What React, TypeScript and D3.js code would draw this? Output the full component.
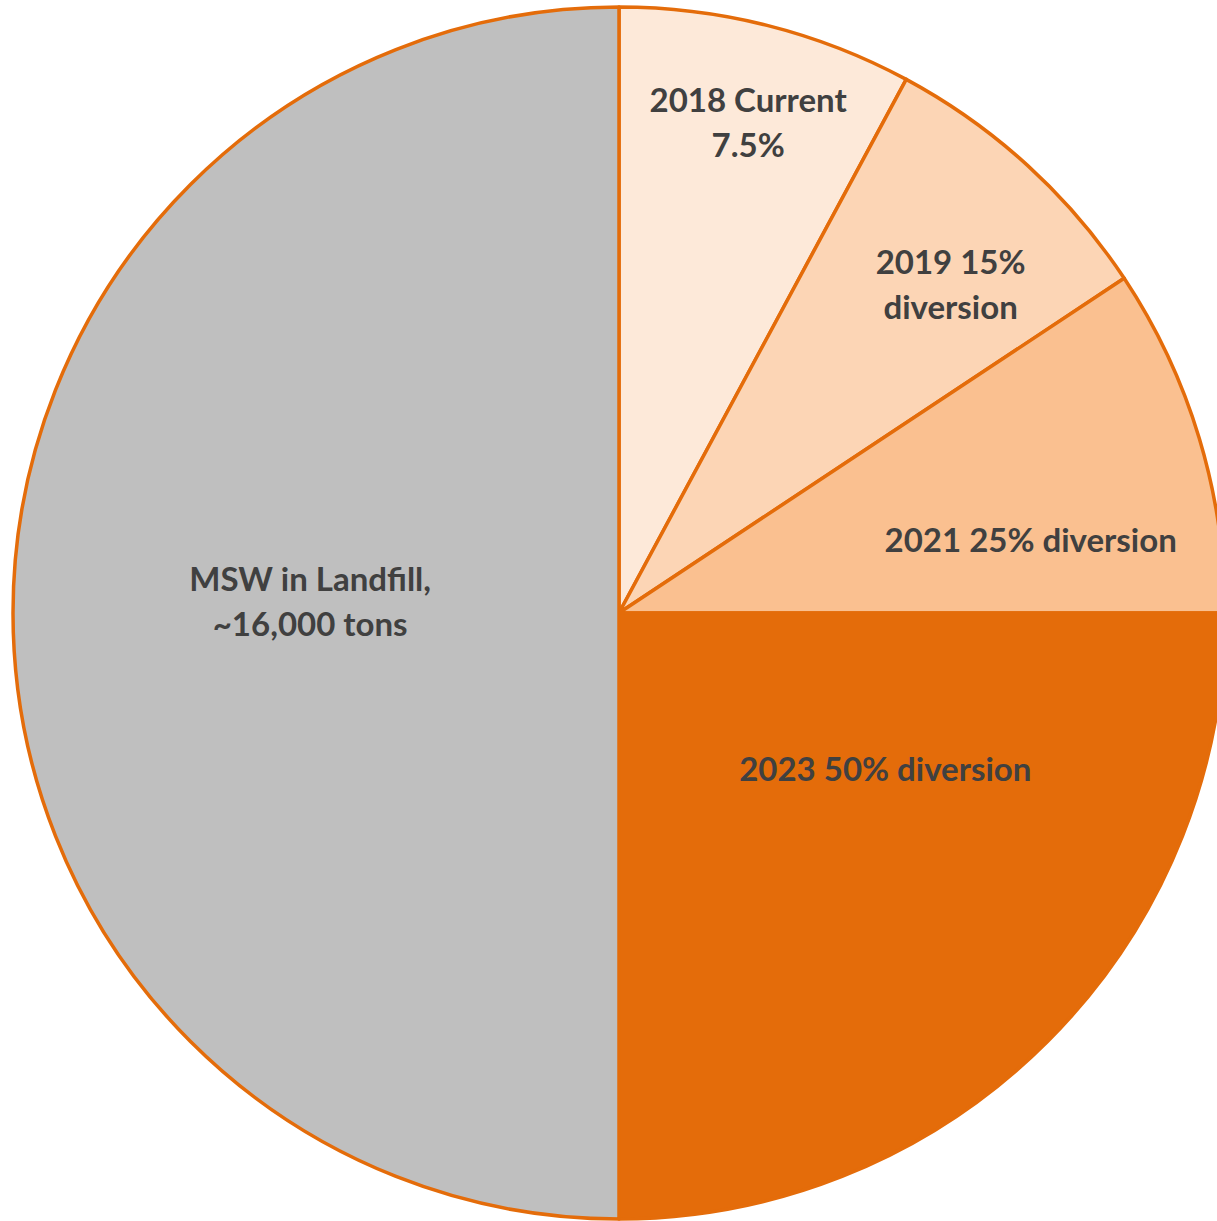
import { useEffect, useRef } from 'react'
import * as d3 from 'd3'

// slice names (two-line labels) and tonnage, clockwise from 12 o'clock
const labels: string[][] = [
  ['2018 Current', '7.5%'],
  ['2019 15%', 'diversion'],
  ['2021 25% diversion'],
  ['2023 50% diversion'],
  ['MSW in Landfill,', '~16,000 tons'],
]
const tons = [2515, 2505, 2980, 8000, 16000]
const colors = ['#FDE9D9', '#FCD5B5', '#FAC090', '#E46C0A', '#BFBFBF']

// label placement: fraction of radius, angle shift (deg) from slice middle
const labelRadius = [0.837, 0.77, 0.69, 0.51, 0.51]
const labelShift = [0.6, 2.9, 6.7, -14.5, 2]

interface Slice {
  label: string[]
  value: number
  color: string
}

const W = 1217
const H = 1221
const cx = 619
const cy = 613
const R = 606

export default function App() {
  const svgRef = useRef<SVGSVGElement>(null)

  useEffect(() => {
    if (!svgRef.current) return
    const svg = d3.select(svgRef.current)
    svg.selectAll('*').remove()

    const data: Slice[] = tons.map((v, i) => ({ label: labels[i], value: v, color: colors[i] }))
    const pie = d3.pie<Slice>().value(d => d.value).sort(null)
    const arc = d3.arc<d3.PieArcDatum<Slice>>().innerRadius(0).outerRadius(R)
    const arcs = pie(data)

    const g = svg.append('g').attr('transform', `translate(${cx},${cy})`)

    g.selectAll('path')
      .data(arcs)
      .join('path')
      .attr('d', arc)
      .attr('fill', d => d.data.color)
      .attr('stroke', '#E46C0A')
      .attr('stroke-width', 3.5)
      .attr('stroke-linejoin', 'round')

    const lineH = 45
    arcs.forEach((a, i) => {
      const mid = (a.startAngle + a.endAngle) / 2 + (labelShift[i] * Math.PI) / 180
      const r = labelRadius[i] * R
      const x = Math.sin(mid) * r
      const y = -Math.cos(mid) * r
      const lines = a.data.label
      const t = g.append('text')
        .attr('text-anchor', 'middle')
        .attr('font-family', 'Lato, "Open Sans", sans-serif')
        .attr('font-weight', 700)
        .attr('font-size', 33)
        .attr('fill', '#404040')
      lines.forEach((ln, j) => {
        t.append('tspan')
          .attr('x', x)
          .attr('y', y + (j - (lines.length - 1) / 2) * lineH)
          .attr('dy', '0.35em')
          .text(ln)
      })
    })
  }, [])

  return (
    <svg
      ref={svgRef}
      width={W}
      height={H}
      style={{ position: 'absolute', left: 0, top: 0, background: '#fff' }}
    />
  )
}
